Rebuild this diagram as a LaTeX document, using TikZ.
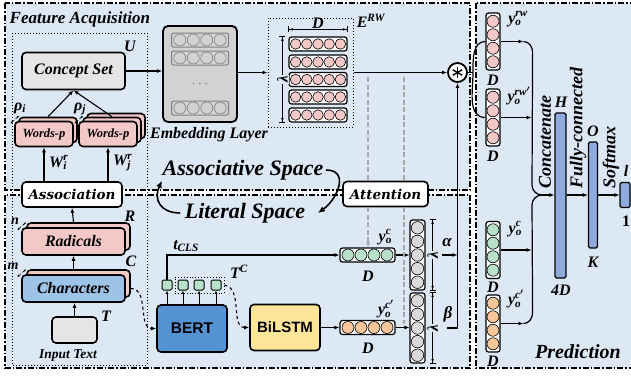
\documentclass[tikz,border=0pt]{standalone}
\usepackage{fontspec}
\setmainfont{Liberation Serif}
\setsansfont{Liberation Sans}
\newfontfamily\capfont{DejaVu Serif}
\usetikzlibrary{positioning,arrows.meta,calc,fit}
\definecolor{Back}{RGB}{221,232,245}
\definecolor{Pink}{RGB}{245,200,200}
\definecolor{Sky}{RGB}{157,195,230}
\definecolor{Bert}{RGB}{84,146,211}
\definecolor{Lstm}{RGB}{255,229,153}
\definecolor{Mint}{RGB}{183,225,200}
\definecolor{Peach}{RGB}{248,198,152}
\definecolor{Ash}{RGB}{217,217,217}
\definecolor{Bar}{RGB}{143,170,220}
\newcommand{\fsz}[1]{\fontsize{#1}{#1}\selectfont}
\newcommand{\yl}[3]{#1\rlap{\textsubscript{#2}}\textsuperscript{#3}}
\newcommand{\cells}[6]{%
  \foreach \q in {1,...,#2}
    \node[cell=#6,#3] (#1-\q) at ($(#1.center)+({(\q-(#2+1)/2)*#4},{(\q-(#2+1)/2)*#5})$) {};}

\begin{document}
\begin{tikzpicture}[x=1pt,y=-1pt,
 zone/.style={fill=Back,line width=1.1pt,dash pattern=on 6pt off 2pt on 1.5pt off 2pt},
 blk/.style={draw,line width=1.6pt,rounded corners=4pt,inner sep=0pt,font=\fsz{16}\bfseries\itshape},
 wp/.style={blk,fill=Pink,minimum width=58,minimum height=25,font=\fsz{12.5}\bfseries\itshape},
 pk/.style={blk,fill=Pink,minimum width=103,minimum height=27},
 tag/.style={inner sep=.5pt,font=\fsz{16}\bfseries\itshape\boldmath},
 vbox/.style={draw,line width=1.2pt,rounded corners=2.5pt,fill=white,inner sep=0pt},
 cell/.style={circle,draw,line width=.6pt,inner sep=0pt,minimum size=#1},
 cell/.default=12,
 tok/.style={draw,fill=Mint,line width=1pt,rounded corners=1.5pt,minimum size=10,inner sep=0pt},
 bar/.style={draw,fill=Bar,line width=1.2pt,rounded corners=1.5pt,inner sep=0pt},
 ar/.style={-{Latex[length=5pt,width=4pt]},line width=1.1pt},
 sar/.style={-{Latex[length=3.5pt,width=3pt]},line width=.9pt},
 dim/.style={{Bar[width=6pt]Latex[length=4pt,width=2.5pt]}-{Latex[length=4pt,width=2.5pt]Bar[width=6pt]},line width=.5pt},
 tiny/.style={{Latex[length=2.5pt,width=2pt]}-{Latex[length=2.5pt,width=2pt]},densely dashed,line width=.6pt},
 gdash/.style={gray!70,dash pattern=on 5pt off 2.5pt,line width=1.2pt},
 curv/.style={-{Latex[length=7pt,width=6pt]},line width=1.6pt},
 brc/.style={line width=1.2pt}]
\useasboundingbox (0,0) rectangle (631,375);
\fill[white] (0,0) rectangle (631,375);
% zones
\draw[zone] (5,3) rectangle (470,190);
\draw[zone] (5,195) rectangle (470,368);
\draw[zone] (476,3) rectangle (645,368);
\draw[dotted,line width=1pt] (12,33) rectangle (147,365);
\node[tag,anchor=west,font=\fsz{17}\bfseries\itshape] (fa) at (9,19) {Feature Acquisition};

% concept set and words
\node[blk,fill=gray!20,minimum width=103,minimum height=37] (cs) at (73.5,71) {Concept Set};
\node[tag] (u) at (130,46) {U};
\node[wp] (wi1) at (48,130) {};
\node[wp] (wi) at (44,134) {Words-p};
\node[wp] (wj2) at (116,126) {};
\node[wp] (wj1) at (112,130) {};
\node[wp] (wj) at (108,134) {Words-p};
\node[tag] (ri) at (20,108) {ρ\textsubscript{i}};
\node[tag] (rj) at (80,109) {ρ\textsubscript{j}};
\draw[tiny] ($(wi.north west)+(-4,3)$) -- ++(9,-8);
\draw[tiny] ($(wj.north west)+(-4,3)$) -- ++(9,-8);
\draw[ar] (wi1.north) -- (cs.south);
\draw[ar] (wj1.north) -- (cs.south);

% association, radicals, characters
\node[blk,fill=white,font=\fsz{13.5}\capfont\bfseries\itshape,minimum width=100,minimum height=25] (asc) at (72,194.5) {Association};
\draw[ar] (asc.north -| wi) -- (wi.south) node[tag,pos=.55,right=4pt] {\yl{W}{i}{r}};
\draw[ar] (asc.north -| wj) -- (wj.south) node[tag,pos=.55,right=4pt] {\yl{W}{j}{r}};
\node[pk] (rad1) at (78.5,236.5) {};
\node[pk] (rad) at (73.5,241.5) {Radicals};
\node[pk] (chr1) at (78.5,283.5) {};
\node[blk,fill=Sky,minimum width=103,minimum height=27] (chr) at (73.5,288.5) {Characters};
\node[tag] (rl) at (130,216) {R};
\node[tag] (cl) at (131,261) {C};
\node[tag,font=\fsz{14}\bfseries\itshape] (nl) at (15,221) {n};
\node[tag,font=\fsz{14}\bfseries\itshape] (ml) at (13,266) {m};
\draw[tiny] ($(rad.north west)+(-4,3)$) -- ++(9,-8);
\draw[tiny] ($(chr.north west)+(-4,3)$) -- ++(9,-8);
\draw[ar] (rad1.north -| rad) -- (asc.south);
\draw[ar] (chr1.north -| chr) -- (rad.south);
\node[blk,fill=gray!20,minimum width=45,minimum height=26] (inp) at (74.5,330) {};
\node[tag] (tl) at (106,316) {T};
\node[tag,font=\fsz{13.5}\bfseries\itshape] (inpl) at (68,356) {Input Text};
\draw[ar] (inp.north) -- (inp.north |- chr.south);

% embedding
\node[draw,line width=1.8pt,rounded corners=5pt,fill=gray!35,minimum width=74,minimum height=96] (emb) at (200,74) {};
\foreach \y [count=\k] in {40,58,108} {
  \node[draw=gray,line width=1pt,rounded corners=2pt,fill=gray!35,minimum width=57,minimum height=14] (e\k) at (200,\y) {};
  \cells{e\k}{4}{fill=gray!35,draw=gray}{13.5}{0}{12}}
\node[text=gray,font=\fsz{14}] (dots) at (200,84) {$\cdots$};
\node[tag,font=\fsz{16}\bfseries\itshape] (embl) at (209,135) {Embedding Layer};
\draw[ar] (cs.east) -- (cs.east -| emb.west);

% E^RW
\node[draw,dotted,line width=1pt,minimum width=85,minimum height=109] (erw) at (310.5,72.5) {};
\foreach \y [count=\k] in {44,62,79.5,97,115} {
  \node[vbox,minimum width=58,minimum height=14] (r\k) at (318,\y) {};
  \cells{r\k}{5}{fill=Pink}{11.2}{0}{10.5}}
\draw[dim] ($(r1.north west)+(0,-7)$) -- ($(r1.north east)+(0,-7)$) node[tag,midway,above=.5pt] {D};
\draw[dim] ($(r1.north west)+(-6,0)$) -- ($(r5.south west)+(-6,0)$) node[midway,fill=Back,rotate=90,inner sep=1pt,font=\fsz{15}\bfseries\itshape] {λ};
\node[tag] (erwl) at (371,21) {E\textsuperscript{RW}};
\draw[ar] (emb.east |- erw.west) -- (erw.west);

% spaces
\node[tag,font=\fsz{22}\bfseries\itshape] (asp) at (243,170) {Associative Space};
\node[tag,font=\fsz{22}\bfseries\itshape] (lsp) at (245,213) {Literal Space};
\draw[curv] ([xshift=-4pt]lsp.west) to[out=180,in=-115,looseness=1.4] (asp.south west);
\draw[curv] ([xshift=2pt]asp.east) to[out=0,in=35,looseness=1.4] ([xshift=12pt]lsp.east);
\node[blk,fill=white,font=\fsz{13.5}\capfont\bfseries\itshape,minimum width=85,minimum height=25] (att) at (385.5,194) {Attention};

% star
\node[circle,draw,line width=1.8pt,minimum size=19,fill=white,inner sep=0pt] (star) at (457.5,72.5) {};
\foreach \a in {90,30,150}
  \draw[line width=1.4pt] ($(star.center)+(\a:5.5pt)$) -- ($(star.center)+(\a+180:5.5pt)$);
\draw[ar] (erw.east) -- (star.west);

% literal branch
\node[blk,fill=Bert,font=\fsz{15.5}\sffamily\bfseries,minimum width=70,minimum height=47] (bert) at (192,328.5) {BERT};
\node[blk,fill=Lstm,font=\fsz{15}\sffamily\bfseries,minimum width=70,minimum height=46] (lstm) at (285,327.5) {BiLSTM};
\draw[ar,dashed] ([xshift=5pt]chr.east) to[out=0,in=180] (bert.west);
\foreach \x [count=\k from 0] in {167,183,199,216}
  \node[tok] (t\k) at (\x,285) {};
\node[draw,dotted,line width=.9pt,inner sep=2.5pt,fit=(t1)(t3)] (tc) {};
\foreach \k in {0,...,3}
  \draw[sar] (bert.north -| t\k) -- (t\k.south);
\node[tag] (tcls) at (186,246) {t\textsubscript{CLS}};
\node[tag] (tcl) at (239,272) {T\textsuperscript{C}};
\draw[ar,dashed] (tc.east) to[out=-10,in=180] (lstm.west);

\node[vbox,minimum width=55,minimum height=14] (yc) at (367.5,255) {};
\cells{yc}{4}{fill=Mint}{13}{0}{12}
\node[vbox,minimum width=55,minimum height=14] (yo) at (367.5,327.5) {};
\cells{yo}{4}{fill=Peach}{13}{0}{12}
\node[tag] (ycl) at (385,237) {\yl{y}{o}{c}};
\node[tag] (yol) at (386,309) {\yl{y}{o}{c$'$}};
\node[tag] (ycd) at (368,276) {D};
\node[tag] (yod) at (368,348) {D};
\draw[ar] (t0.north) |- (yc.west);
\draw[ar] (lstm.east) -- (yo.west);

\node[vbox,minimum width=15,minimum height=70] (gc1) at (417.5,255) {};
\cells{gc1}{5}{fill=Ash}{0}{13.6}{12.5}
\node[vbox,minimum width=15,minimum height=70] (gc2) at (417.5,328) {};
\cells{gc2}{5}{fill=Ash}{0}{13.6}{12.5}
\draw[ar] (yc.east) -- (gc1.west);
\draw[ar] (yo.east) -- (yo.east -| gc2.west);
\draw[dim] ($(gc1.north east)+(7,0)$) -- ($(gc1.south east)+(7,0)$) node[midway,fill=Back,rotate=90,inner sep=1pt,font=\fsz{15}\bfseries\itshape] {λ};
\draw[dim] ($(gc2.north east)+(7,0)$) -- ($(gc2.south east)+(7,0)$) node[midway,fill=Back,rotate=90,inner sep=1pt,font=\fsz{15}\bfseries\itshape] {λ};

% gates
\coordinate (bt) at (447,328);
\draw[ar] (bt) -| (star.south);
\node[tag,font=\fsz{17}\bfseries\itshape] (bel) at (448,314) {β};
\coordinate (al) at (442,255);
\draw[ar] (al) -- (al -| star.south);
\node[tag,font=\fsz{17}\bfseries\itshape] (all) at (447,243) {α};

% attention guides
\coordinate (g1) at (368,77);
\coordinate (g2) at (404,77);
\draw[gdash] (g1) -- (g1 |- att.north);
\draw[gdash] (g2) -- (g2 |- att.north);
\draw[gdash,-{Latex[length=5pt,width=4pt]}] (g1 |- att.south) -- (g1 |- yc.north);
\draw[gdash,-{Latex[length=5pt,width=4pt]}] (g2 |- att.south) -- ($(g2 |- yo)+(0,-2)$);

% prediction
\node[vbox,minimum width=14,minimum height=57] (p1) at (493,41.5) {};
\cells{p1}{4}{fill=Pink}{0}{13.5}{12}
\node[vbox,minimum width=14,minimum height=57] (p2) at (493,117.5) {};
\cells{p2}{4}{fill=Pink}{0}{13.5}{12}
\node[vbox,minimum width=14,minimum height=57] (pg) at (493,250) {};
\cells{pg}{4}{fill=Mint}{0}{13.5}{12}
\node[vbox,minimum width=14,minimum height=57] (po) at (493,323.5) {};
\cells{po}{4}{fill=Peach}{0}{13.5}{12}
\node[tag] (p1l) at (518,19) {\yl{y}{o}{rw}};
\node[tag] (p2l) at (519,96) {\yl{y}{o}{rw$'$}};
\node[tag] (pgl) at (515,229) {\yl{y}{o}{c}};
\node[tag] (pol) at (516,299) {\yl{y}{o}{c$'$}};
\node[tag] (p1d) at (493,80) {D};
\node[tag] (p2d) at (493,156) {D};
\node[tag] (pgd) at (493,287) {D};
\node[tag] (pod) at (493,361) {D};
\coordinate (sp) at (473,72.5);
\draw[brc] (star.east) -- (sp);
\draw[brc] (sp) to[out=90,in=180] (p1.west);
\draw[brc] (sp) to[out=-90,in=180] (p2.west);

\node[bar,minimum width=11,minimum height=165] (hb) at (560.5,195.5) {};
\node[bar,minimum width=9,minimum height=106] (ob) at (593,195) {};
\node[bar,minimum width=10,minimum height=25] (lb) at (625,195) {};
\draw[ar] (hb.east |- ob.west) -- (ob.west);
\draw[ar] (ob.east) -- (lb.west);
\node[tag] (hl) at (561,102) {H};
\node[tag] (hd) at (561,290) {4D};
\node[tag] (ol) at (593,131) {O};
\node[tag] (od) at (593,262) {K};
\node[tag] (ll) at (626,171) {l};
\node[tag,font=\fsz{16}\bfseries] (ld) at (626,221) {1};
\node[tag,font=\fsz{18}\bfseries\itshape,rotate=90,anchor=west] (cat) at (545,189) {Concatenate};
\node[tag,font=\fsz{18}\bfseries\itshape,rotate=90,anchor=west] (fc) at (578,189) {Fully-connected};
\node[tag,font=\fsz{18}\bfseries\itshape,rotate=90,anchor=west] (sm) at (611,189) {Softmax};

\draw[ar] (p1.east) -- ++(23,0) coordinate (c1);
\draw[ar] (p2.east) -- ++(31,0);
\draw[ar] (pg.east) -- ++(31,0);
\draw[ar] (po.east) -- ++(23,0) coordinate (c4);
\coordinate (cusp) at (542,195);
\draw[brc] (c1) to[out=0,in=90] ($(c1)+(9,11)$) -- (532,185) to[out=-90,in=180] (cusp);
\draw[brc] (c4) to[out=0,in=-90] ($(c4)+(9,-11)$) -- (532,205) to[out=90,in=180] (cusp);
\draw[ar] (cusp) -- (cusp -| hb.west);
\node[tag,font=\fsz{20}\bfseries\itshape] (pred) at (578,352) {Prediction};
\end{tikzpicture}
\end{document}
